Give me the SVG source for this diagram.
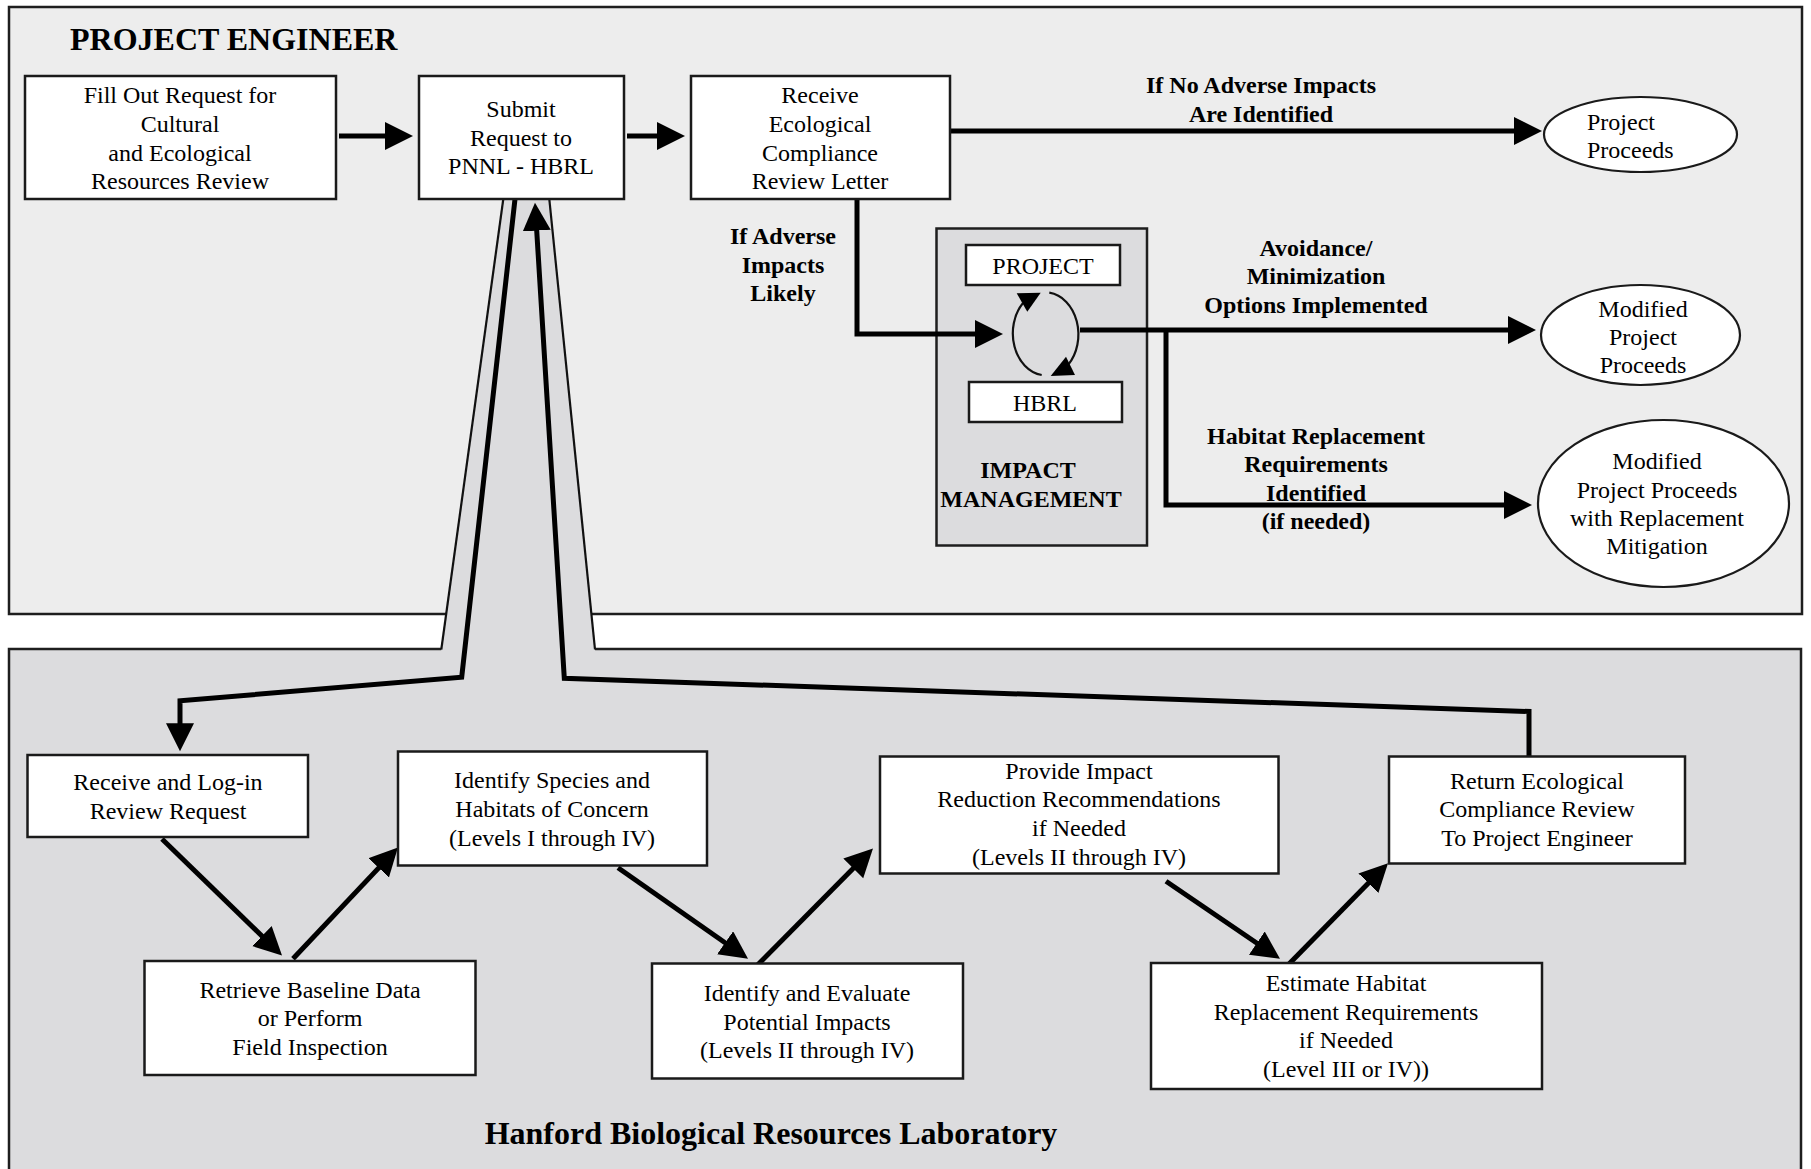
<svg xmlns="http://www.w3.org/2000/svg" width="1811" height="1169" viewBox="0 0 1811 1169">
<style>
.ptop{fill:#ededed;stroke:#1e1e1e;stroke-width:2.5}
.pbot{fill:#dcdcde;stroke:#1e1e1e;stroke-width:2.5}
.box{fill:#fff;stroke:#1a1a1a;stroke-width:2.5}
.ell{fill:#fff;stroke:#1a1a1a;stroke-width:2.2}
.t{font-family:"Liberation Serif","Times New Roman",serif;font-size:24px;text-anchor:middle;fill:#000}
.b{font-weight:bold}
.conn{fill:none;stroke:#000;stroke-width:5;stroke-linejoin:miter;marker-end:url(#ah)}
.thin{fill:none;stroke:#111;stroke-width:2.2}
</style>
<defs>
<marker id="ah" markerUnits="userSpaceOnUse" markerWidth="30" markerHeight="30" refX="10" refY="14" orient="auto">
<path d="M0,0 L28,14 L0,28 z" fill="#000"/>
</marker>
</defs>

<g id="panels">
<rect class="ptop" x="9" y="7" width="1793" height="607"/>
<rect class="pbot" x="9" y="649" width="1792" height="530"/>
<polygon points="503.3,199 549.3,199 595.3,652 441,652" fill="#dcdcde"/>
<line class="thin" x1="503.3" y1="199" x2="441.3" y2="649.5"/>
<line class="thin" x1="549.3" y1="199" x2="595" y2="649.5"/>
<text class="t b" x="70" y="50" style="font-size:32px;text-anchor:start">PROJECT ENGINEER</text>
<text class="t b" x="771" y="1144" style="font-size:32px">Hanford Biological Resources Laboratory</text>
</g>

<g id="impact-management">
<rect x="936.5" y="228.5" width="210.5" height="317" fill="#dcdcde" stroke="#1e1e1e" stroke-width="2.5"/>
<text class="t b"><tspan x="1028" y="478">IMPACT</tspan><tspan x="1031" y="507">MANAGEMENT</tspan></text>
</g>

<g id="connectors">
<path class="conn" d="M339,136 H395"/>
<path class="conn" d="M627,136 H667"/>
<path class="conn" d="M950,131 H1524"/>
<path class="conn" d="M857,199 V334 H985"/>
<path class="conn" d="M1080,330 H1518"/>
<path class="conn" d="M1166,330 V505 H1514"/>
<path class="conn" d="M515,199 L461.7,677.3 L180,700.7 V733.3"/>
<path class="conn" d="M1529,756.4 V711.5 L564.3,678.3 L536.1,220.7"/>
<path class="conn" d="M162,839 L269.1,943"/>
<path class="conn" d="M293,958.8 L385.6,860.6"/>
<path class="conn" d="M618,867.7 L733.3,948.5"/>
<path class="conn" d="M756,966.6 L860.3,861.3"/>
<path class="conn" d="M1166,881.2 L1265.1,948.7"/>
<path class="conn" d="M1287.5,965.6 L1375.4,876.1"/>
<path class="thin" d="M1041.7,375 A33,42 0 0 1 1023,303"/>
<polygon points="1016.7,293.3 1040.7,292.7 1027.3,311.7" fill="#000"/>
<path class="thin" d="M1049.3,292.7 A33,42 0 0 1 1068,365"/>
<polygon points="1066,356.7 1075,375 1050.7,376" fill="#000"/>
<text class="t b"><tspan x="1261" y="93">If No Adverse Impacts</tspan><tspan x="1261" y="122">Are Identified</tspan></text>
<text class="t b"><tspan x="783" y="244">If Adverse</tspan><tspan x="783" y="273">Impacts</tspan><tspan x="783" y="301">Likely</tspan></text>
<text class="t b"><tspan x="1316" y="256">Avoidance/</tspan><tspan x="1316" y="284">Minimization</tspan><tspan x="1316" y="313">Options Implemented</tspan></text>
<text class="t b"><tspan x="1316" y="444">Habitat Replacement</tspan><tspan x="1316" y="472">Requirements</tspan><tspan x="1316" y="501">Identified</tspan><tspan x="1316" y="529">(if needed)</tspan></text>
</g>

<g id="fill-out-request">
<rect class="box" x="25" y="76" width="311" height="123"/>
<text class="t"><tspan x="180" y="103">Fill Out Request for</tspan><tspan x="180" y="132">Cultural</tspan><tspan x="180" y="161">and Ecological</tspan><tspan x="180" y="189">Resources Review</tspan></text>
</g>
<g id="submit-request">
<rect class="box" x="419" y="76" width="205" height="123"/>
<text class="t"><tspan x="521" y="117">Submit</tspan><tspan x="521" y="146">Request to</tspan><tspan x="521" y="174">PNNL - HBRL</tspan></text>
</g>
<g id="receive-letter">
<rect class="box" x="691" y="76" width="259" height="123"/>
<text class="t"><tspan x="820" y="103">Receive</tspan><tspan x="820" y="132">Ecological</tspan><tspan x="820" y="161">Compliance</tspan><tspan x="820" y="189">Review Letter</tspan></text>
</g>
<g id="project-proceeds">
<ellipse class="ell" cx="1640.5" cy="134.5" rx="96.5" ry="37.5"/>
<text class="t" style="text-anchor:start"><tspan x="1587" y="130">Project</tspan><tspan x="1587" y="158">Proceeds</tspan></text>
</g>
<g id="project-box">
<rect class="box" x="966" y="245" width="154" height="40"/>
<text class="t" x="1043" y="274">PROJECT</text>
</g>
<g id="hbrl-box">
<rect class="box" x="969" y="382" width="153" height="40"/>
<text class="t" x="1045" y="411">HBRL</text>
</g>
<g id="modified-project-proceeds">
<ellipse class="ell" cx="1640.5" cy="335" rx="99.5" ry="50"/>
<text class="t"><tspan x="1643" y="317">Modified</tspan><tspan x="1643" y="345">Project</tspan><tspan x="1643" y="373">Proceeds</tspan></text>
</g>
<g id="modified-with-mitigation">
<ellipse class="ell" cx="1663.5" cy="503.5" rx="125.5" ry="83.5"/>
<text class="t"><tspan x="1657" y="469">Modified</tspan><tspan x="1657" y="498">Project Proceeds</tspan><tspan x="1657" y="526">with Replacement</tspan><tspan x="1657" y="554">Mitigation</tspan></text>
</g>

<g id="receive-log-in">
<rect class="box" x="27.5" y="755" width="280.5" height="82"/>
<text class="t"><tspan x="168" y="790">Receive and Log-in</tspan><tspan x="168" y="819">Review Request</tspan></text>
</g>
<g id="identify-species">
<rect class="box" x="398" y="751.5" width="309" height="114"/>
<text class="t"><tspan x="552" y="788">Identify Species and</tspan><tspan x="552" y="817">Habitats of Concern</tspan><tspan x="552" y="846">(Levels I through IV)</tspan></text>
</g>
<g id="retrieve-baseline">
<rect class="box" x="144.5" y="961" width="331" height="114"/>
<text class="t"><tspan x="310" y="997.5">Retrieve Baseline Data</tspan><tspan x="310" y="1026">or Perform</tspan><tspan x="310" y="1055">Field Inspection</tspan></text>
</g>
<g id="identify-evaluate">
<rect class="box" x="652" y="963.5" width="311" height="115"/>
<text class="t"><tspan x="807" y="1001">Identify and Evaluate</tspan><tspan x="807" y="1029.5">Potential Impacts</tspan><tspan x="807" y="1058">(Levels II through IV)</tspan></text>
</g>
<g id="provide-impact-reduction">
<rect class="box" x="880" y="756.5" width="398.5" height="117"/>
<text class="t"><tspan x="1079" y="778.5">Provide Impact</tspan><tspan x="1079" y="807">Reduction Recommendations</tspan><tspan x="1079" y="835.5">if Needed</tspan><tspan x="1079" y="864.5">(Levels II through IV)</tspan></text>
</g>
<g id="return-review">
<rect class="box" x="1389" y="756.5" width="296" height="107"/>
<text class="t"><tspan x="1537" y="788.5">Return Ecological</tspan><tspan x="1537" y="817">Compliance Review</tspan><tspan x="1537" y="846">To Project Engineer</tspan></text>
</g>
<g id="estimate-habitat">
<rect class="box" x="1151" y="963" width="391" height="126"/>
<text class="t"><tspan x="1346" y="991">Estimate Habitat</tspan><tspan x="1346" y="1019.5">Replacement Requirements</tspan><tspan x="1346" y="1048">if Needed</tspan><tspan x="1346" y="1077">(Level III or IV))</tspan></text>
</g>
</svg>
